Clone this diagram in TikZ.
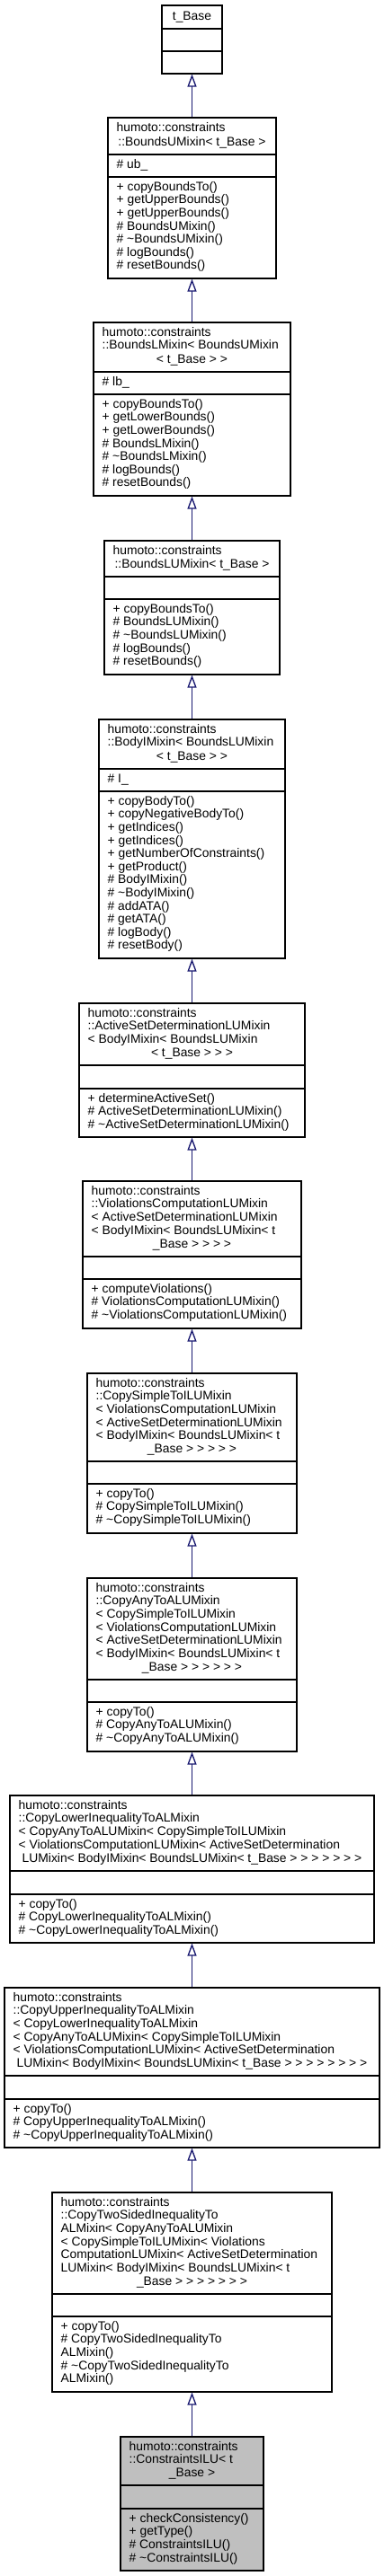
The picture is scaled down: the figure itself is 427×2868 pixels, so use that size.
\documentclass[tikz,border=0pt]{standalone}
\usepackage{fontspec}
\setmainfont{Liberation Sans}
\usetikzlibrary{arrows.meta,fit,positioning}
\definecolor{ink}{HTML}{000000}
\definecolor{edgeblue}{HTML}{191970}
\definecolor{grey75}{HTML}{BFBFBF}
\tikzset{
  cls/.style={draw=ink, line width=0.9pt, fill=white, inner sep=0pt},
  lft/.style={anchor=north west, align=left, inner sep=0pt, font=\fontsize{10.4pt}{10.95pt}\selectfont},
  ctr/.style={anchor=base, inner sep=0pt, font=\fontsize{10.4pt}{10.95pt}\selectfont},
}
\begin{document}
\begin{tikzpicture}[x=0.75pt, y=-0.75pt,
  cur/.style={cls, fill=grey75},
  inh/.style={-{Triangle[open, length=10.5pt, width=7.5pt]}, edgeblue, line width=1pt}]
\useasboundingbox (0,0) rectangle (427,2868);
% t_Base
\node[cls, fit={(180,6) (247,32)}] (c1) {}; \node[cls, fit={(180,32) (247,57)}] (a1) {}; \node[cls, fit={(180,57) (247,82)}] (m1) {};
\node[ctr] (e1) at ([yshift=7.3pt]c1.south) {t\_Base};
% BoundsUMixin
\node[cls, fit={(120,131) (307,172)}] (c2) {}; \node[cls, fit={(120,172) (307,197)}] (a2) {}; \node[cls, fit={(120,197) (307,310)}] (m2) {};
\node[lft] (n2) at ([shift={(10,5.4)}]c2.north west) {\strut humoto::constraints};
\node[ctr] (e2) at ([yshift=7.3pt]c2.south) {::BoundsUMixin< t\_Base >};
\node[lft] (v2) at ([shift={(10,5.4)}]a2.north west) {\strut\# ub\_};
\node[lft] (p2) at ([shift={(10,5.4)}]m2.north west) {\strut + copyBoundsTo()\\+ getUpperBounds()\\+ getUpperBounds()\\\# BoundsUMixin()\\\# \textasciitilde BoundsUMixin()\\\# logBounds()\\\# resetBounds()};
% BoundsLMixin
\node[cls, fit={(104,359) (323,414)}] (c3) {}; \node[cls, fit={(104,414) (323,439)}] (a3) {}; \node[cls, fit={(104,439) (323,552)}] (m3) {};
\node[lft] (n3) at ([shift={(10,5.4)}]c3.north west) {\strut humoto::constraints\\::BoundsLMixin< BoundsUMixin};
\node[ctr] (e3) at ([yshift=7.3pt]c3.south) {< t\_Base > >};
\node[lft] (v3) at ([shift={(10,5.4)}]a3.north west) {\strut\# lb\_};
\node[lft] (p3) at ([shift={(10,5.4)}]m3.north west) {\strut + copyBoundsTo()\\+ getLowerBounds()\\+ getLowerBounds()\\\# BoundsLMixin()\\\# \textasciitilde BoundsLMixin()\\\# logBounds()\\\# resetBounds()};
% BoundsLUMixin
\node[cls, fit={(116,602) (311,642)}] (c4) {}; \node[cls, fit={(116,642) (311,667)}] (a4) {}; \node[cls, fit={(116,667) (311,751)}] (m4) {};
\node[lft] (n4) at ([shift={(10,5.4)}]c4.north west) {\strut humoto::constraints};
\node[ctr] (e4) at ([yshift=7.3pt]c4.south) {::BoundsLUMixin< t\_Base >};
\node[lft] (p4) at ([shift={(10,5.4)}]m4.north west) {\strut + copyBoundsTo()\\\# BoundsLUMixin()\\\# \textasciitilde BoundsLUMixin()\\\# logBounds()\\\# resetBounds()};
% BodyIMixin
\node[cls, fit={(110,801) (317,856)}] (c5) {}; \node[cls, fit={(110,856) (317,881)}] (a5) {}; \node[cls, fit={(110,881) (317,1067)}] (m5) {};
\node[lft] (n5) at ([shift={(10,5.4)}]c5.north west) {\strut humoto::constraints\\::BodyIMixin< BoundsLUMixin};
\node[ctr] (e5) at ([yshift=7.3pt]c5.south) {< t\_Base > >};
\node[lft] (v5) at ([shift={(10,5.4)}]a5.north west) {\strut\# I\_};
\node[lft] (p5) at ([shift={(10,5.4)}]m5.north west) {\strut + copyBodyTo()\\+ copyNegativeBodyTo()\\+ getIndices()\\+ getIndices()\\+ getNumberOfConstraints()\\+ getProduct()\\\# BodyIMixin()\\\# \textasciitilde BodyIMixin()\\\# addATA()\\\# getATA()\\\# logBody()\\\# resetBody()};
% ActiveSetDeterminationLUMixin
\node[cls, fit={(88,1117) (339,1186)}] (c6) {}; \node[cls, fit={(88,1186) (339,1212)}] (a6) {}; \node[cls, fit={(88,1212) (339,1266)}] (m6) {};
\node[lft] (n6) at ([shift={(10,5.4)}]c6.north west) {\strut humoto::constraints\\::ActiveSetDeterminationLUMixin\\< BodyIMixin< BoundsLUMixin};
\node[ctr] (e6) at ([yshift=7.3pt]c6.south) {< t\_Base > > >};
\node[lft] (p6) at ([shift={(10,5.4)}]m6.north west) {\strut + determineActiveSet()\\\# ActiveSetDeterminationLUMixin()\\\# \textasciitilde ActiveSetDeterminationLUMixin()};
% ViolationsComputationLUMixin
\node[cls, fit={(92,1315) (335,1399)}] (c7) {}; \node[cls, fit={(92,1399) (335,1424)}] (a7) {}; \node[cls, fit={(92,1424) (335,1479)}] (m7) {};
\node[lft] (n7) at ([shift={(10,5.4)}]c7.north west) {\strut humoto::constraints\\::ViolationsComputationLUMixin\\< ActiveSetDeterminationLUMixin\\< BodyIMixin< BoundsLUMixin< t};
\node[ctr] (e7) at ([yshift=7.3pt]c7.south) {\_Base > > > >};
\node[lft] (p7) at ([shift={(10,5.4)}]m7.north west) {\strut + computeViolations()\\\# ViolationsComputationLUMixin()\\\# \textasciitilde ViolationsComputationLUMixin()};
% CopySimpleToILUMixin
\node[cls, fit={(97,1529) (330,1627)}] (c8) {}; \node[cls, fit={(97,1627) (330,1652)}] (a8) {}; \node[cls, fit={(97,1652) (330,1707)}] (m8) {};
\node[lft] (n8) at ([shift={(10,5.4)}]c8.north west) {\strut humoto::constraints\\::CopySimpleToILUMixin\\< ViolationsComputationLUMixin\\< ActiveSetDeterminationLUMixin\\< BodyIMixin< BoundsLUMixin< t};
\node[ctr] (e8) at ([yshift=7.3pt]c8.south) {\_Base > > > > >};
\node[lft] (p8) at ([shift={(10,5.4)}]m8.north west) {\strut + copyTo()\\\# CopySimpleToILUMixin()\\\# \textasciitilde CopySimpleToILUMixin()};
% CopyAnyToALUMixin
\node[cls, fit={(97,1757) (330,1870)}] (c9) {}; \node[cls, fit={(97,1870) (330,1895)}] (a9) {}; \node[cls, fit={(97,1895) (330,1950)}] (m9) {};
\node[lft] (n9) at ([shift={(10,5.4)}]c9.north west) {\strut humoto::constraints\\::CopyAnyToALUMixin\\< CopySimpleToILUMixin\\< ViolationsComputationLUMixin\\< ActiveSetDeterminationLUMixin\\< BodyIMixin< BoundsLUMixin< t};
\node[ctr] (e9) at ([yshift=7.3pt]c9.south) {\_Base > > > > > >};
\node[lft] (p9) at ([shift={(10,5.4)}]m9.north west) {\strut + copyTo()\\\# CopyAnyToALUMixin()\\\# \textasciitilde CopyAnyToALUMixin()};
% CopyLowerInequalityToALMixin
\node[cls, fit={(11,1999) (416,2083)}] (c10) {}; \node[cls, fit={(11,2083) (416,2109)}] (a10) {}; \node[cls, fit={(11,2109) (416,2163)}] (m10) {};
\node[lft] (n10) at ([shift={(10,5.4)}]c10.north west) {\strut humoto::constraints\\::CopyLowerInequalityToALMixin\\< CopyAnyToALUMixin< CopySimpleToILUMixin\\< ViolationsComputationLUMixin< ActiveSetDetermination};
\node[ctr] (e10) at ([yshift=7.3pt]c10.south) {LUMixin< BodyIMixin< BoundsLUMixin< t\_Base > > > > > > >};
\node[lft] (p10) at ([shift={(10,5.4)}]m10.north west) {\strut + copyTo()\\\# CopyLowerInequalityToALMixin()\\\# \textasciitilde CopyLowerInequalityToALMixin()};
% CopyUpperInequalityToALMixin
\node[cls, fit={(5,2213) (422,2311)}] (c11) {}; \node[cls, fit={(5,2311) (422,2337)}] (a11) {}; \node[cls, fit={(5,2337) (422,2391)}] (m11) {};
\node[lft] (n11) at ([shift={(10,5.4)}]c11.north west) {\strut humoto::constraints\\::CopyUpperInequalityToALMixin\\< CopyLowerInequalityToALMixin\\< CopyAnyToALUMixin< CopySimpleToILUMixin\\< ViolationsComputationLUMixin< ActiveSetDetermination};
\node[ctr] (e11) at ([yshift=7.3pt]c11.south) {LUMixin< BodyIMixin< BoundsLUMixin< t\_Base > > > > > > > >};
\node[lft] (p11) at ([shift={(10,5.4)}]m11.north west) {\strut + copyTo()\\\# CopyUpperInequalityToALMixin()\\\# \textasciitilde CopyUpperInequalityToALMixin()};
% CopyTwoSidedInequalityToALMixin
\node[cls, fit={(58,2441) (369,2554)}] (c12) {}; \node[cls, fit={(58,2554) (369,2579)}] (a12) {}; \node[cls, fit={(58,2579) (369,2663)}] (m12) {};
\node[lft] (n12) at ([shift={(10,5.4)}]c12.north west) {\strut humoto::constraints\\::CopyTwoSidedInequalityTo\\ALMixin< CopyAnyToALUMixin\\< CopySimpleToILUMixin< Violations\\ComputationLUMixin< ActiveSetDetermination\\LUMixin< BodyIMixin< BoundsLUMixin< t};
\node[ctr] (e12) at ([yshift=7.3pt]c12.south) {\_Base > > > > > > >};
\node[lft] (p12) at ([shift={(10,5.4)}]m12.north west) {\strut + copyTo()\\\# CopyTwoSidedInequalityTo\\ALMixin()\\\# \textasciitilde CopyTwoSidedInequalityTo\\ALMixin()};
% ConstraintsILU
\node[cur, fit={(134,2713) (293,2767)}] (c13) {}; \node[cur, fit={(134,2767) (293,2793)}] (a13) {}; \node[cur, fit={(134,2793) (293,2862)}] (m13) {};
\node[lft] (n13) at ([shift={(10,5.4)}]c13.north west) {\strut humoto::constraints\\::ConstraintsILU< t};
\node[ctr] (e13) at ([yshift=7.3pt]c13.south) {\_Base >};
\node[lft] (p13) at ([shift={(10,5.4)}]m13.north west) {\strut + checkConsistency()\\+ getType()\\\# ConstraintsILU()\\\# \textasciitilde ConstraintsILU()};
% inheritance
\draw[inh] (c2.north) -- (m1.south); \draw[inh] (c3.north) -- (m2.south); \draw[inh] (c4.north) -- (m3.south);
\draw[inh] (c5.north) -- (m4.south); \draw[inh] (c6.north) -- (m5.south); \draw[inh] (c7.north) -- (m6.south);
\draw[inh] (c8.north) -- (m7.south); \draw[inh] (c9.north) -- (m8.south); \draw[inh] (c10.north) -- (m9.south);
\draw[inh] (c11.north) -- (m10.south); \draw[inh] (c12.north) -- (m11.south); \draw[inh] (c13.north) -- (m12.south);
\end{tikzpicture}
\end{document}
